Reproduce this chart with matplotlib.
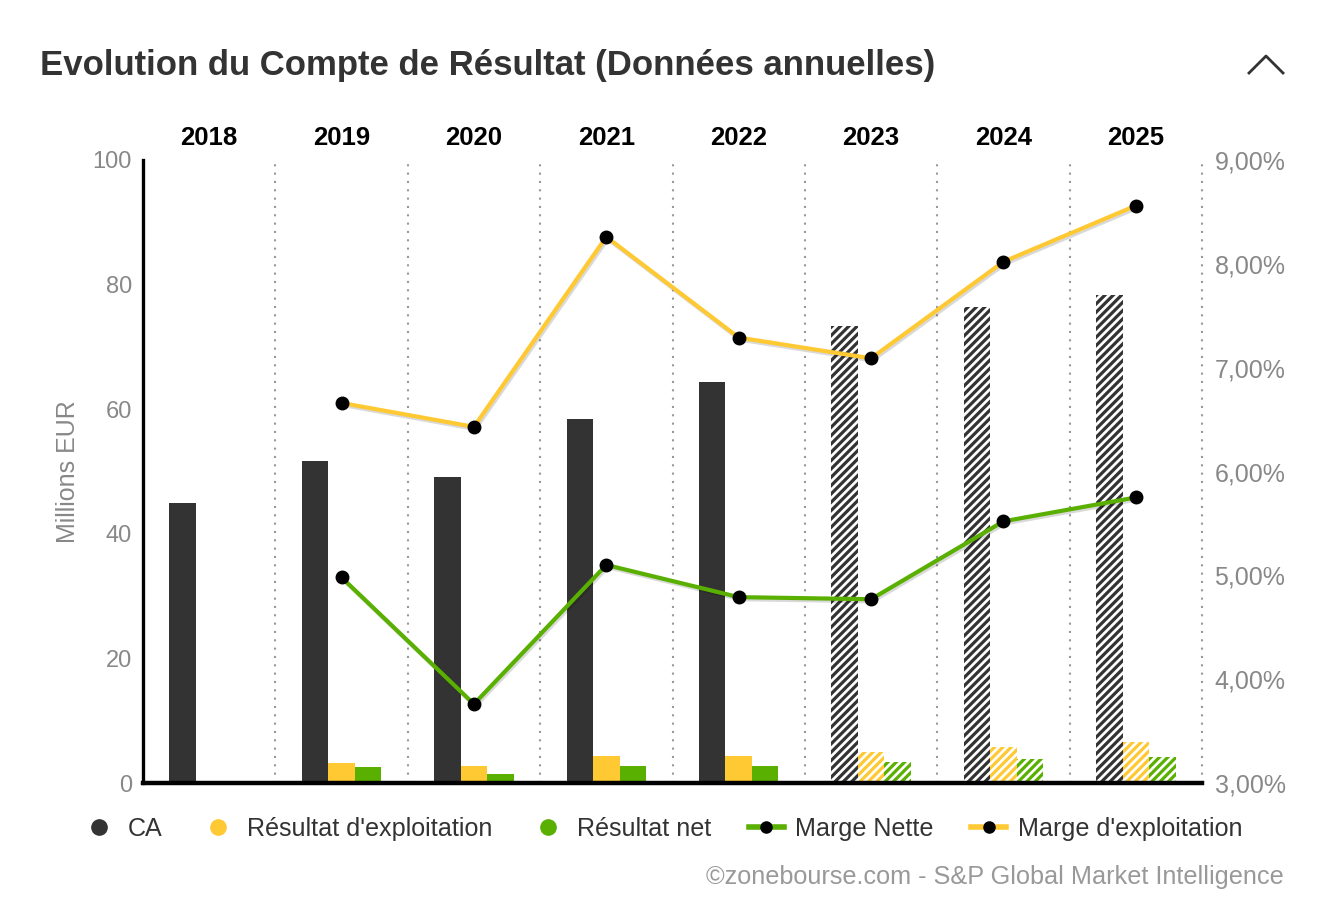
#!/usr/bin/env python3
# -*- coding: utf-8 -*-
"""
Evolution du Compte de Resultat - annual figures, bars + margin lines.
"""
#------------------------------------------------------------------------------#
import matplotlib
matplotlib.use('Agg')
import matplotlib.pyplot as plt
import matplotlib.patheffects as pe
from matplotlib.lines import Line2D
import numpy as np
#------------------------------------------------------------------------------#
# Data (Millions EUR / %).
years = ['2018', '2019', '2020', '2021', '2022', '2023', '2024', '2025']
forecast = [False, False, False, False, False, True, True, True]

ca = [44.9, 51.7, 49.1, 58.4, 64.4, 73.4, 76.4, 78.3]
res_exploit = [None, 3.2, 2.8, 4.4, 4.4, 4.9, 5.8, 6.6]
res_net = [None, 2.5, 1.4, 2.8, 2.8, 3.3, 3.9, 4.1]

marge_nette = [None, 4.98, 3.76, 5.10, 4.79, 4.77, 5.52, 5.75]
marge_exploit = [None, 6.66, 6.43, 8.26, 7.29, 7.09, 8.02, 8.56]

left_ticks = [0, 20, 40, 60, 80, 100]
right_ticks = [3, 4, 5, 6, 7, 8, 9]
#------------------------------------------------------------------------------#
# Colours / fonts
c_ca = '#333333'
c_yel = '#FFC933'
c_grn = '#5AB000'
c_gray = '#888888'

plt.rcParams['font.family'] = ['Liberation Sans', 'DejaVu Sans']
plt.rcParams['hatch.linewidth'] = 2.3
#------------------------------------------------------------------------------#
W, H = 1338, 910
fig = plt.figure(figsize=(W / 100, H / 100), dpi=100)
ax = fig.add_axes([143 / W, 1 - 783 / H, (1202 - 143) / W, (783 - 160) / H])
ax2 = ax.twinx()

x = np.arange(len(years))
bw = 0.2

def draw_bars(vals, offset, color):
    for xi, v, fc in zip(x, vals, forecast):
        if v is None:
            continue
        if fc:
            ax.bar(xi + offset, v, bw, facecolor='white', edgecolor=color,
                   hatch='////', linewidth=0, zorder=2)
        else:
            ax.bar(xi + offset, v, bw, color=color, linewidth=0, zorder=2)

draw_bars(ca, -bw, c_ca)
draw_bars(res_exploit, 0, c_yel)
draw_bars(res_net, bw, c_grn)

# dotted separators between years
for b in x[:-1] + 0.5:
    ax.axvline(b, color='#999999', lw=1.5, ls=(0, (1, 3)), zorder=0)
ax.axvline(len(years) - 0.5, color='#999999', lw=1.5, ls=(0, (1, 3)), zorder=0,
           clip_on=False)

ax.set_xlim(-0.5, len(years) - 0.5)
ax.set_ylim(0, 100)
ax.set_yticks(left_ticks)
ax.tick_params(axis='y', length=0, pad=8, labelsize=17, labelcolor=c_gray)
ax.xaxis.set_ticks_position('top')
ax.set_xticks(x)
ax.set_xticklabels(years, fontweight='bold', fontsize=18.5, color='black')
ax.tick_params(axis='x', length=0, pad=7)
ax.set_ylabel('Millions EUR', fontsize=18, color=c_gray, labelpad=9)

for s in ['top', 'right']:
    ax.spines[s].set_visible(False)
ax.spines['left'].set_linewidth(2.4)
ax.spines['bottom'].set_linewidth(3.2)
ax.spines['left'].set_color('black')
ax.spines['bottom'].set_color('black')

#------------------------------------------------------------------------------#
# Margins on the right axis
shadow = [pe.SimpleLineShadow(offset=(1, -1.5), shadow_color='#000000', alpha=0.15),
          pe.Normal()]
xm = [xi for xi, v in zip(x, marge_exploit) if v is not None]
ym = [v for v in marge_exploit if v is not None]
ax2.plot(xm, ym, color=c_yel, lw=3, zorder=3, path_effects=shadow)
ax2.plot(xm, ym, 'o', color='black', ms=9, zorder=4)
xn = [xi for xi, v in zip(x, marge_nette) if v is not None]
yn = [v for v in marge_nette if v is not None]
ax2.plot(xn, yn, color=c_grn, lw=3, zorder=3, path_effects=shadow)
ax2.plot(xn, yn, 'o', color='black', ms=9, zorder=4)

ax2.set_ylim(3, 9)
ax2.set_yticks(right_ticks)
ax2.set_yticklabels([f'{t:.2f}%'.replace('.', ',') for t in right_ticks])
ax2.tick_params(axis='y', length=0, pad=9, labelsize=18, labelcolor=c_gray)
for s in ax2.spines.values():
    s.set_visible(False)

#------------------------------------------------------------------------------#
# Legend
handles = [
    Line2D([], [], ls='none', marker='o', ms=11, color=c_ca),
    Line2D([], [], ls='none', marker='o', ms=11, color=c_yel),
    Line2D([], [], ls='none', marker='o', ms=11, color=c_grn),
    Line2D([], [], color=c_grn, lw=4, marker='o', ms=8, mfc='black', mec='black'),
    Line2D([], [], color=c_yel, lw=4, marker='o', ms=8, mfc='black', mec='black'),
]
labels = ['CA', "Résultat d'exploitation", 'Résultat net', 'Marge Nette',
          "Marge d'exploitation"]
leg = fig.legend(handles, labels, loc='center', bbox_to_anchor=(662 / W, 1 - 829 / H),
                 ncol=5, frameon=False, fontsize=18.1, handlelength=1.4,
                 handletextpad=0.45, columnspacing=1.5)
for t in leg.get_texts():
    t.set_color('#333333')

#------------------------------------------------------------------------------#
# Title, credit, chevron
fig.text(40 / W, 1 - 65 / H, 'Evolution du Compte de Résultat (Données annuelles)',
         fontsize=25, fontweight='bold', color='#333333', va='center', ha='left')
fig.text(1284 / W, 1 - 877 / H, '©zonebourse.com - S&P Global Market Intelligence',
         fontsize=18.2, color='#999999', va='center', ha='right')
fig.add_artist(Line2D([1249 / W, 1266 / W, 1283 / W],
                      [1 - 73 / H, 1 - 56 / H, 1 - 73 / H],
                      color='#333333', lw=2, transform=fig.transFigure))

fig.savefig('out.png', dpi=100, facecolor='white')
#------------------------------------------------------------------------------#
